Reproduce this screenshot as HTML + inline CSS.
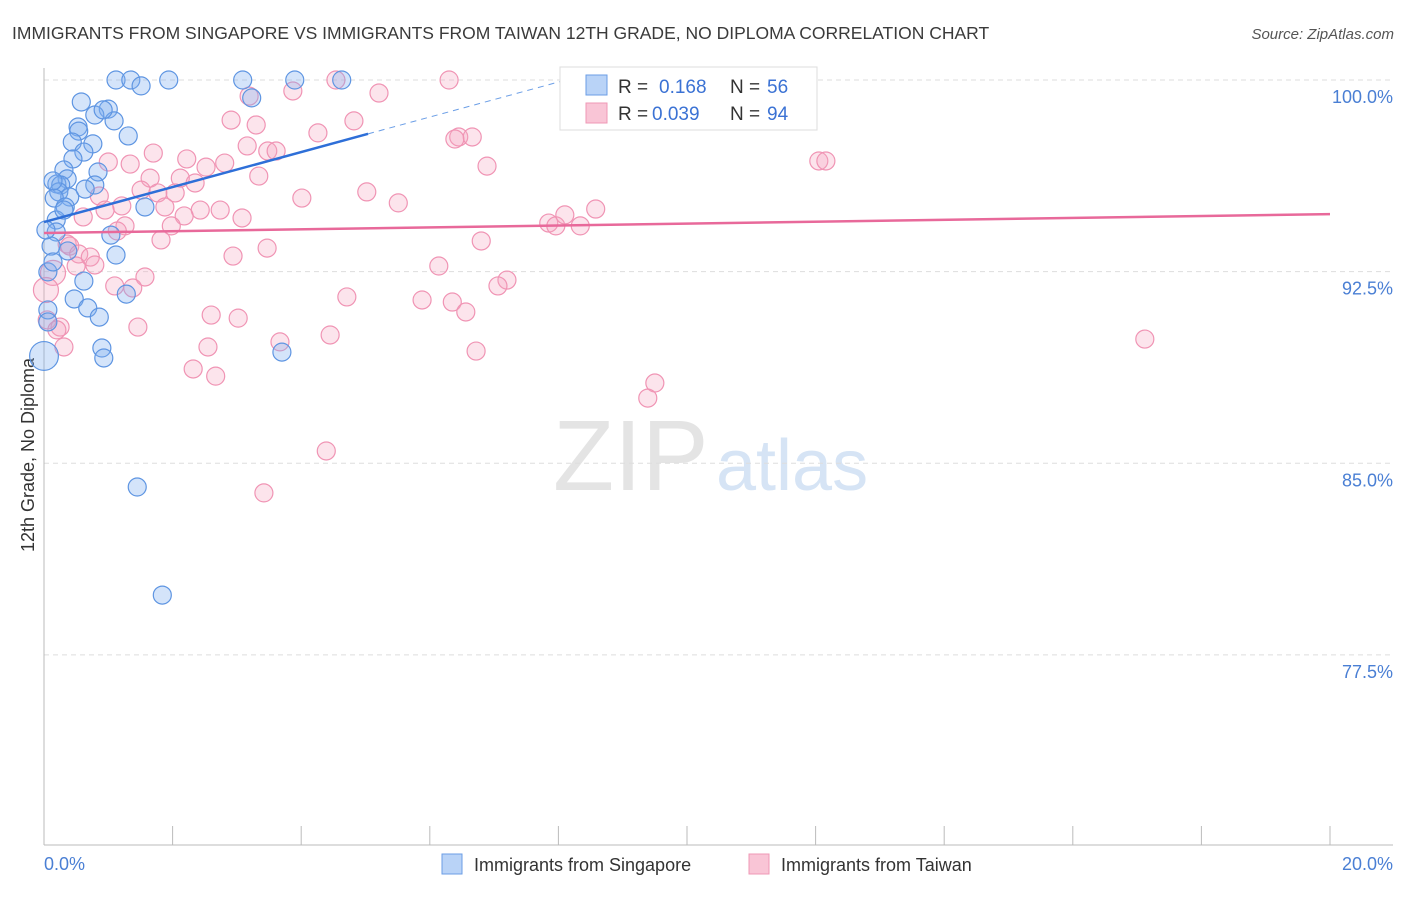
<!DOCTYPE html>
<html><head><meta charset="utf-8"><style>
body{margin:0;background:#fff;font-family:"Liberation Sans",sans-serif}
svg text{font-family:"Liberation Sans",sans-serif}
</style></head><body>
<svg id="c" width="1406" height="892" xmlns="http://www.w3.org/2000/svg">
<text x="12" y="39" font-size="17.5" fill="#3a3a3a">IMMIGRANTS FROM SINGAPORE VS IMMIGRANTS FROM TAIWAN 12TH GRADE, NO DIPLOMA CORRELATION CHART</text>
<text x="1394" y="39" font-size="15" fill="#555" text-anchor="end" font-style="italic">Source: ZipAtlas.com</text>
<g>
<text x="553" y="490" font-size="100" fill="#e4e4e4" font-family="Liberation Serif,serif">ZIP</text>
<text x="716" y="490" font-size="72" fill="#d6e4f5">atlas</text>
</g>
<text transform="translate(34,455) rotate(-90)" font-size="18" fill="#333" text-anchor="middle">12th Grade, No Diploma</text>
<g id="grid"></g><g id="axes"></g><g id="pts"></g><g id="trend"></g>
<g>
<rect x="560" y="67" width="257" height="63" fill="#fff" stroke="#ddd"/>
<rect x="586" y="75" width="21" height="20" fill="#b9d3f7" stroke="#6b9ee6"/>
<rect x="586" y="103" width="21" height="20" fill="#f9c5d6" stroke="#ef98b6"/>
<text x="618" y="93" font-size="19" fill="#333">R = </text><text x="659" y="93" font-size="19" fill="#3b72d4">0.168</text>
<text x="730" y="93" font-size="19" fill="#333">N = </text><text x="767" y="93" font-size="19" fill="#3b72d4">56</text>
<text x="618" y="120" font-size="19" fill="#333">R = </text><text x="652" y="120" font-size="19" fill="#3b72d4">0.039</text>
<text x="730" y="120" font-size="19" fill="#333">N = </text><text x="767" y="120" font-size="19" fill="#3b72d4">94</text>
</g>
<g>
<rect x="442" y="854" width="20" height="20" fill="#b9d3f7" stroke="#6b9ee6"/>
<text x="474" y="871" font-size="18" fill="#333">Immigrants from Singapore</text>
<rect x="749" y="854" width="20" height="20" fill="#f9c5d6" stroke="#ef98b6"/>
<text x="781" y="871" font-size="18" fill="#333">Immigrants from Taiwan</text>
</g>
</svg>
<script>
const yTicks=[100,92.5,85,77.5];
const yTickLabels=["100.0%","92.5%","85.0%","77.5%"];
const xTicks=[0,2,4,6,8,10,12,14,16,18,20];
const xEndLabels=["0.0%","20.0%"];
const blueX=[1.12,1.35,1.94,3.09,3.90,4.63,1.51,3.23,0.58,1.00,0.79,1.09,0.53,0.54,1.31,0.44,0.76,0.62,0.45,0.31,0.84,0.36,0.20,0.26,0.79,0.64,0.23,0.40,0.16,0.33,1.57,0.19,0.19,1.04,0.11,0.37,1.12,0.06,0.62,1.28,0.47,0.68,0.86,0.06,0.90,0.93,3.70,0.0,1.45,1.84,0.03,0.31,0.14,0.06,0.14,0.92];
const blueY=[100,100,100,100,100,100,99.77,99.30,99.14,98.86,98.63,98.40,98.16,98.00,97.81,97.57,97.50,97.18,96.91,96.48,96.40,96.13,95.93,95.89,95.89,95.73,95.62,95.42,95.38,95.03,95.03,94.52,94.05,93.93,93.50,93.31,93.15,92.49,92.13,91.62,91.43,91.08,90.72,91.00,89.51,89.12,89.35,89.20,84.07,79.84,94.13,94.91,92.88,90.53,96.05,98.83];
const blueW=[1,1,1,1,1,1,1,1,1,1,1,1,1,1,1,1,1,1,1,1,1,1,1,1,1,1,1,1,1,1,1,1,1,1,1,1,1,1,1,1,1,1,1,1,1,1,1,1.6,1,1,1,1,1,1,1,1];
const pinkX=[4.54,6.30,11.77,3.87,5.21,3.19,2.91,4.82,3.30,4.26,6.45,6.66,6.39,3.16,1.70,3.48,3.61,1.00,1.34,2.22,2.81,2.52,6.89,12.05,12.16,1.65,2.12,2.35,3.34,1.51,1.77,2.04,5.02,4.01,0.86,5.51,1.21,0.95,1.88,2.43,2.74,3.08,2.18,0.61,1.98,7.85,7.96,8.10,8.34,8.58,1.26,1.14,1.82,6.80,0.36,0.40,3.47,0.54,0.72,0.79,2.94,0.50,6.14,0.14,1.57,7.20,7.06,1.38,1.10,4.71,5.88,6.35,6.56,2.60,3.02,0.05,0.25,1.46,4.45,3.67,2.55,0.31,6.72,17.12,2.32,2.67,9.50,9.39,4.39,3.42,0.03,0.20];
const pinkY=[100,100,100,99.57,99.49,99.37,98.43,98.40,98.24,97.93,97.77,97.77,97.69,97.42,97.14,97.22,97.22,96.79,96.71,96.91,96.75,96.59,96.63,96.83,96.83,96.16,96.16,95.97,96.24,95.69,95.58,95.58,95.62,95.38,95.46,95.19,95.07,94.91,95.03,94.91,94.91,94.60,94.68,94.64,94.29,94.40,94.29,94.72,94.29,94.95,94.29,94.09,93.74,93.70,93.58,93.50,93.42,93.19,93.07,92.76,93.11,92.72,92.72,92.45,92.29,92.17,91.94,91.86,91.94,91.51,91.39,91.31,90.92,90.80,90.68,90.61,90.33,90.33,90.02,89.75,89.55,89.55,89.39,89.86,88.69,88.41,88.14,87.55,85.48,83.84,91.78,90.22];
const blueTrend=[94.44,0.685];
const pinkTrend=[94.01,0.037];
const X=v=>44+v*64.3, Y=v=>80+(100-v)*25.55;
const NS="http://www.w3.org/2000/svg";
function mk(p,t,a){const e=document.createElementNS(NS,t);for(const k in a)e.setAttribute(k,a[k]);p.appendChild(e);return e;}
const grid=document.getElementById('grid'),axes=document.getElementById('axes'),pts=document.getElementById('pts'),tr=document.getElementById('trend');
yTicks.forEach((v,i)=>{
 const l=mk(grid,'line',{x1:44,x2:1393,y1:Y(v),y2:Y(v),stroke:'#ddd','stroke-dasharray':'5,4'});
 
 
 const t=mk(grid,'text',{x:1393,y:Y(v)+23,'font-size':18,fill:'#4a7fd4','text-anchor':'end'});t.textContent=yTickLabels[i];
 
 
});
const ax=mk(axes,'line',{x1:44,x2:44,y1:68,y2:845,stroke:'#bbb'});


const bx=mk(axes,'line',{x1:44,x2:1393,y1:845,y2:845,stroke:'#bbb'});


xTicks.forEach(v=>{const t=mk(axes,'line',{x1:X(v),x2:X(v),y1:826,y2:845,stroke:'#bbb'});
 
 });
const xl0=mk(axes,'text',{x:44,y:870,'font-size':18,fill:'#4a7fd4'});xl0.textContent=xEndLabels[0];


const xl1=mk(axes,'text',{x:1393,y:870,'font-size':18,fill:'#4a7fd4','text-anchor':'end'});xl1.textContent=xEndLabels[1];


pinkX.forEach((x,i)=>{const c=mk(pts,'circle',{cx:X(x),cy:Y(pinkY[i]),r:(x<0.2&&pinkY[i]>91.5&&pinkY[i]<92.6)?12.5:9,fill:'rgba(246,165,193,0.3)',stroke:'#f094b4','stroke-width':1.2});
 
 });
blueX.forEach((x,i)=>{const c=mk(pts,'circle',{cx:X(x),cy:Y(blueY[i]),r:9*blueW[i],fill:'rgba(125,172,240,0.33)',stroke:'#5e95e2','stroke-width':1.2});
 
 });
const bl=mk(tr,'line',{x1:X(0),y1:Y(blueTrend[0]),x2:X(5.04),y2:Y(blueTrend[0]+blueTrend[1]*5.04),stroke:'#2e6fd8','stroke-width':2.5});


const bd=mk(tr,'line',{x1:X(5.04),y1:Y(blueTrend[0]+blueTrend[1]*5.04),x2:X(8.1),y2:Y(blueTrend[0]+blueTrend[1]*8.1),stroke:'#6b9ee6','stroke-width':1,'stroke-dasharray':'6,5'});


const pl=mk(tr,'line',{x1:X(0),y1:Y(pinkTrend[0]),x2:X(20),y2:Y(pinkTrend[0]+pinkTrend[1]*20),stroke:'#e8699a','stroke-width':2.5});


</script>
</body></html>
